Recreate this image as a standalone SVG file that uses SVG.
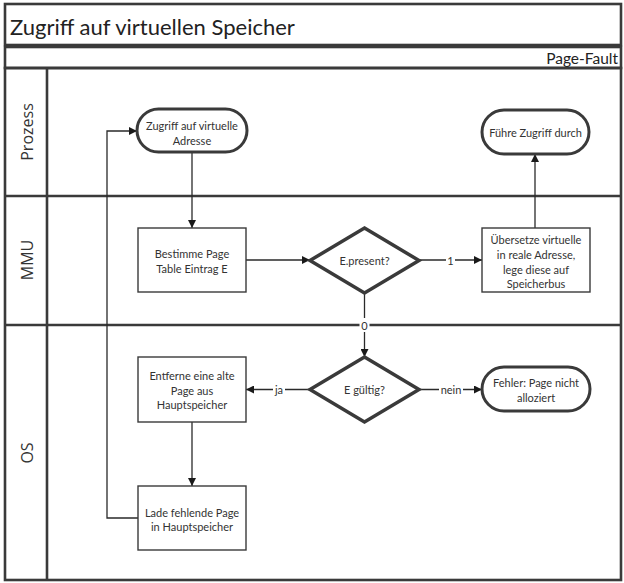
<svg xmlns="http://www.w3.org/2000/svg" width="624" height="583" viewBox="0 0 624 583">
<defs>
<marker id="ah" viewBox="0 0 10 10" refX="10" refY="5" markerWidth="8" markerHeight="8" markerUnits="userSpaceOnUse" orient="auto">
<path d="M0,0 L10,5 L0,10 z" fill="#1a1a1a"/>
</marker>
<style>
.frame{fill:none;stroke:#3a3a3a;stroke-width:2.6}
.term{fill:#fff;stroke:#3a3a3a;stroke-width:3}
.dec{fill:#fff;stroke:#3a3a3a;stroke-width:3.5;stroke-linejoin:miter}
.proc{fill:#fff;stroke:#3a3a3a;stroke-width:1.4}
.con{fill:none;stroke:#2a2a2a;stroke-width:1.3}
.t{font-family:Lato,"Liberation Sans",sans-serif;font-size:11px;fill:#333;text-anchor:middle;dominant-baseline:central}
.lane{font-family:"Open Sans","Liberation Sans",sans-serif;font-size:16px;fill:#333;text-anchor:middle;dominant-baseline:central}
.lbl{font-family:Lato,"Liberation Sans",sans-serif;font-size:11px;fill:#333;text-anchor:middle;dominant-baseline:central}
</style>
</defs>
<rect x="0" y="0" width="624" height="583" fill="#fff"/>
<g id="pool">
<rect class="frame" x="5" y="4" width="616" height="41"/>
<text x="10" y="26" font-family="Lato,'Liberation Sans',sans-serif" font-size="22" fill="#222" dominant-baseline="central">Zugriff auf virtuellen Speicher</text>
<rect class="frame" x="5" y="47" width="616" height="21"/>
<text x="618" y="58" font-family="Lato,'Liberation Sans',sans-serif" font-size="15.5" fill="#222" text-anchor="end" dominant-baseline="central">Page-Fault</text>
<rect class="frame" x="5" y="68" width="616" height="512"/>
<line class="frame" x1="5" y1="196" x2="621" y2="196"/>
<line class="frame" x1="5" y1="325" x2="621" y2="325"/>
<line class="frame" x1="47" y1="68" x2="47" y2="580"/>
</g>
<g id="lane-prozess"><text class="lane" transform="translate(27,132) rotate(-90)">Prozess</text></g>
<g id="lane-mmu"><text class="lane" transform="translate(27,260) rotate(-90)">MMU</text></g>
<g id="lane-os"><text class="lane" transform="translate(27,453) rotate(-90)">OS</text></g>
<g id="connectors">
<path class="con" d="M192,152 V228" marker-end="url(#ah)"/>
<path class="con" d="M246,260 H310" marker-end="url(#ah)"/>
<path class="con" d="M419,260 H482" marker-end="url(#ah)"/>
<path class="con" d="M535,228 V154" marker-end="url(#ah)"/>
<path class="con" d="M364.5,293 V357" marker-end="url(#ah)"/>
<path class="con" d="M310,389.5 H246" marker-end="url(#ah)"/>
<path class="con" d="M419,389.5 H482" marker-end="url(#ah)"/>
<path class="con" d="M192,422 V486" marker-end="url(#ah)"/>
<path class="con" d="M138,518 H107 V131 H137" marker-end="url(#ah)"/>
<rect x="446" y="253" width="9" height="14" fill="#fff"/>
<text class="lbl" x="450.5" y="260">1</text>
<rect x="359.5" y="318" width="10" height="14" fill="#fff"/>
<text class="lbl" x="364.5" y="325">0</text>
<rect x="273" y="382" width="12" height="15" fill="#fff"/>
<text class="lbl" x="279" y="389.5">ja</text>
<rect x="439" y="382" width="24" height="15" fill="#fff"/>
<text class="lbl" x="451" y="389.5">nein</text>
</g>
<g id="n-zugriff">
<rect class="term" x="137" y="109" width="110" height="43" rx="21.5"/>
<text class="t" x="192" y="125">Zugriff auf virtuelle</text>
<text class="t" x="192" y="140">Adresse</text>
</g>
<g id="n-fuehre">
<rect class="term" x="482" y="110" width="107" height="44" rx="22"/>
<text class="t" x="535.5" y="132">Führe Zugriff durch</text>
</g>
<g id="n-bestimme">
<rect class="proc" x="138" y="228" width="108" height="64"/>
<text class="t" x="192" y="253">Bestimme Page</text>
<text class="t" x="192" y="268">Table Eintrag E</text>
</g>
<g id="n-present">
<path class="dec" d="M364.5,228 L419,260.5 L364.5,293 L310,260.5 Z"/>
<text class="t" x="364.5" y="260">E.present?</text>
</g>
<g id="n-uebersetze">
<rect class="proc" x="482" y="228" width="108" height="64"/>
<text class="t" x="536" y="239">Übersetze virtuelle</text>
<text class="t" x="536" y="254">in reale Adresse,</text>
<text class="t" x="536" y="269">lege diese auf</text>
<text class="t" x="536" y="283">Speicherbus</text>
</g>
<g id="n-gueltig">
<path class="dec" d="M364.5,357 L419,389.5 L364.5,422 L310,389.5 Z"/>
<text class="t" x="364.5" y="389.5">E gültig?</text>
</g>
<g id="n-entferne">
<rect class="proc" x="138" y="357" width="108" height="65"/>
<text class="t" x="192" y="375">Entferne eine alte</text>
<text class="t" x="192" y="390">Page aus</text>
<text class="t" x="192" y="404">Hauptspeicher</text>
</g>
<g id="n-fehler">
<rect class="term" x="482" y="367" width="108" height="44" rx="22"/>
<text class="t" x="536" y="382">Fehler: Page nicht</text>
<text class="t" x="536" y="397">alloziert</text>
</g>
<g id="n-lade">
<rect class="proc" x="138" y="486" width="108" height="64"/>
<text class="t" x="192" y="512">Lade fehlende Page</text>
<text class="t" x="192" y="526">in Hauptspeicher</text>
</g>
</svg>
